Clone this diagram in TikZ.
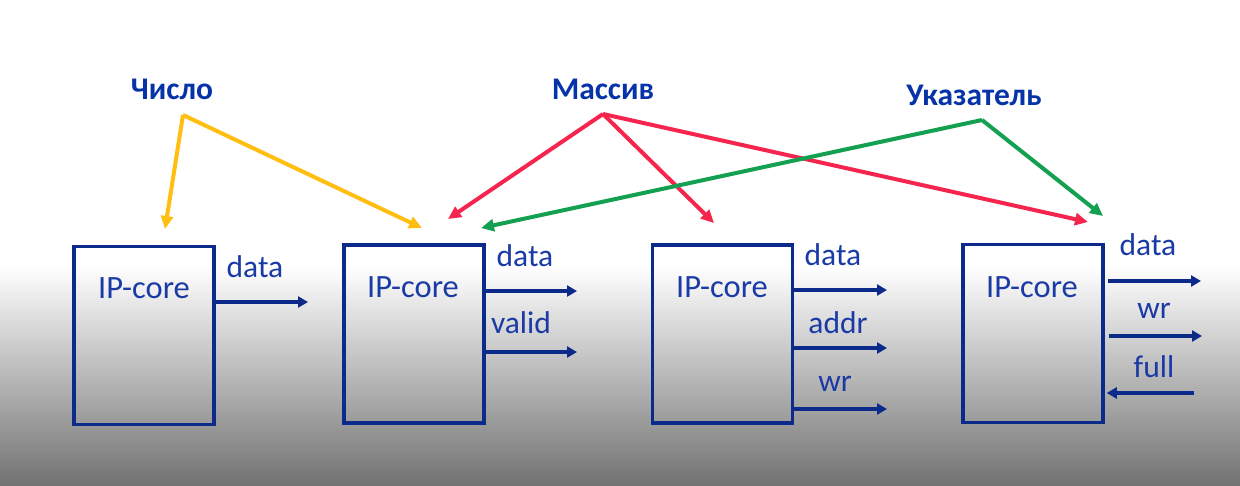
\documentclass[tikz,border=0pt]{standalone}
\usepackage{fontspec}
\setmainfont{Carlito}
\usetikzlibrary{arrows.meta}
\definecolor{navy}{HTML}{0B2A8A}
\definecolor{txtblue}{HTML}{1A3AA6}
\definecolor{ttlblue}{HTML}{0633A8}
\definecolor{gold}{HTML}{FFBE10}
\definecolor{crim}{HTML}{F5254D}
\definecolor{grn}{HTML}{13A050}
\definecolor{bggray}{HTML}{727272}
\begin{document}
\begin{tikzpicture}[x=1pt,y=-1pt,
  ipbox/.style={draw=navy,line width=3.5pt,minimum width=140pt,minimum height=178pt,inner sep=0pt},
  iptext/.style={text=txtblue,font=\fontsize{32.5}{34}\selectfont,inner sep=0pt},
  sig/.style={text=txtblue,font=\fontsize{31.5}{33}\selectfont,inner sep=0pt},
  ttl/.style={text=ttlblue,font=\bfseries\fontsize{31.5}{33}\selectfont,inner sep=0pt},
  port/.style={draw=navy,line width=3.5pt,-{Triangle[length=10pt,width=11pt]}},
  ptr/.style={line width=4pt,-{Triangle[length=13pt,width=12pt]}},
]
\useasboundingbox (0,0) rectangle (1240,485);
\fill[white] (0,0) rectangle (1240,268);
\shade[top color=white,bottom color=bggray] (0,266) rectangle (1240,485);

% boxes
\node[ipbox] (b1) at (144,335.5) {};
\node[ipbox] (b2) at (414,334) {};
\node[ipbox] (b3) at (722.5,334) {};
\node[ipbox] (b4) at (1033,333.5) {};
\node[iptext] (t1) at (144,288) {IP-core};
\node[iptext] (t2) at (413,287) {IP-core};
\node[iptext] (t3) at (722,287) {IP-core};
\node[iptext] (t4) at (1032,287) {IP-core};

% ports box1
\coordinate (e1a) at (308,302);
\draw[port] (b1.east |- e1a) -- (e1a);
\node[sig] (l1a) at (255,267) {data};
% ports box2
\coordinate (e2a) at (577,291);
\coordinate (e2b) at (577,352);
\draw[port] (b2.east |- e2a) -- (e2a);
\draw[port] (b2.east |- e2b) -- (e2b);
\node[sig] (l2a) at (525,256) {data};
\node[sig] (l2b) at (521,323) {valid};
% ports box3
\coordinate (e3a) at (887,290);
\coordinate (e3b) at (887,348);
\coordinate (e3c) at (887,409);
\draw[port] (b3.east |- e3a) -- (e3a);
\draw[port] (b3.east |- e3b) -- (e3b);
\draw[port] (b3.east |- e3c) -- (e3c);
\node[sig] (l3a) at (833,255) {data};
\node[sig] (l3b) at (838,323) {addr};
\node[sig] (l3c) at (835,384) {wr};
% ports box4
\coordinate (e4a) at (1201,281);
\coordinate (e4b) at (1202,336);
\coordinate (s4c) at (1194,393);
\draw[port] ([xshift=3pt]b4.east |- e4a) -- (e4a);
\draw[port] ([xshift=4pt]b4.east |- e4b) -- (e4b);
\draw[port] (s4c) -- ([xshift=2pt]b4.east |- s4c);
\node[sig] (l4a) at (1148,245) {data};
\node[sig] (l4b) at (1154,311) {wr};
\node[sig] (l4c) at (1154,367) {full};

% titles
\node[ttl] (num) at (172,89) {Число};
\node[ttl] (arr) at (603,89) {Массив};
\node[ttl] (pnt) at (974,95) {Указатель};

\coordinate (numa) at (183,115);
\coordinate (arra) at (603,114);
\coordinate (pnta) at (982,120);
\coordinate (y1) at (165,229);
\coordinate (y2) at (422,228);
\coordinate (r1) at (448,219);
\coordinate (r2) at (714,223);
\coordinate (r3) at (1088,222);
\coordinate (g1) at (481,228);
\coordinate (g2) at (1103,216);

\draw[ptr,draw=gold,fill=gold] (numa) -- (y1);
\draw[ptr,draw=gold,fill=gold] (numa) -- (y2);
\draw[ptr,draw=crim,fill=crim] (arra) -- (r1);
\draw[ptr,draw=crim,fill=crim] (arra) -- (r2);
\draw[ptr,draw=crim,fill=crim] (arra) -- (r3);
\draw[ptr,draw=grn,fill=grn] (pnta) -- (g1);
\draw[ptr,draw=grn,fill=grn] (pnta) -- (g2);
\end{tikzpicture}
\end{document}
